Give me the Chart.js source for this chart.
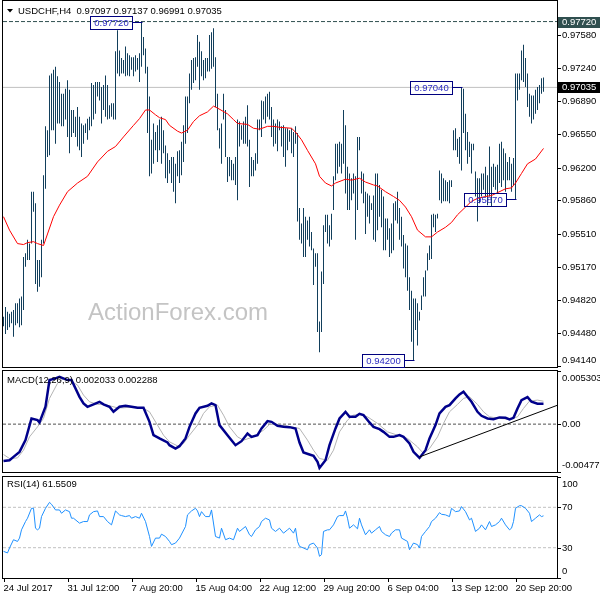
<!DOCTYPE html>
<html>
<head>
<meta charset="utf-8">
<script src="https://cdn.jsdelivr.net/npm/chart.js@4.4.0/dist/chart.umd.min.js"></script>
<style>
  body { margin: 0; background: #fff; }
  #wrap { position: relative; width: 600px; height: 600px; }
  canvas { position: absolute; left: 0; top: 0; }
</style>
</head>
<body>
<div id="wrap">
  <canvas id="priceChart" width="600" height="600"></canvas>
  <canvas id="macdChart" width="600" height="600"></canvas>
  <canvas id="rsiChart" width="600" height="600"></canvas>
</div>
<script>
// USDCHF H4 - bars, MACD, RSI
const highs = [
  0.9465,0.9475,0.9470,0.9468,0.9470,0.9472,0.9479,0.9479,0.9484,0.9486,
  0.9527,0.9531,0.9545,0.9541,0.9595,0.9595,0.9583,0.9524,0.9524,0.9545,
  0.9612,0.9663,0.9659,0.9716,0.9718,0.9722,0.9725,0.9715,0.9709,0.9697,
  0.9697,0.9702,0.9711,0.9701,0.9680,0.9680,0.9673,0.9683,0.9673,0.9666,
  0.9664,0.9666,0.9671,0.9673,0.9708,0.9706,0.9709,0.9709,0.9709,0.9704,
  0.9706,0.9716,0.9706,0.9685,0.9687,0.9687,0.9741,0.9763,0.9742,0.9734,
  0.9732,0.9746,0.9739,0.9737,0.9735,0.9735,0.9737,0.9734,0.9739,0.9772,
  0.9756,0.9744,0.9725,0.9694,0.9649,0.9666,0.9657,0.9664,0.9670,0.9673,
  0.9659,0.9643,0.9635,0.9628,0.9631,0.9631,0.9624,0.9637,0.9638,0.9647,
  0.9664,0.9694,0.9694,0.9718,0.9732,0.9734,0.9735,0.9758,0.9751,0.9741,
  0.9732,0.9734,0.9734,0.9758,0.9761,0.9765,0.9735,0.9697,0.9661,0.9666,
  0.9697,0.9680,0.9631,0.9631,0.9628,0.9624,0.9631,0.9670,0.9668,0.9664,
  0.9668,0.9673,0.9685,0.9649,0.9631,0.9628,0.9635,0.9670,0.9670,0.9690,
  0.9689,0.9694,0.9697,0.9699,0.9683,0.9670,0.9666,0.9670,0.9668,0.9663,
  0.9664,0.9661,0.9661,0.9659,0.9661,0.9657,0.9663,0.9656,0.9578,0.9562,
  0.9578,0.9569,0.9565,0.9569,0.9553,0.9536,0.9531,0.9531,0.9460,0.9512,
  0.9560,0.9571,0.9571,0.9560,0.9572,0.9611,0.9645,0.9645,0.9647,0.9645,
  0.9680,0.9664,0.9621,0.9614,0.9609,0.9614,0.9611,0.9652,0.9652,0.9616,
  0.9614,0.9595,0.9593,0.9591,0.9583,0.9591,0.9614,0.9614,0.9602,0.9597,
  0.9590,0.9567,0.9567,0.9557,0.9562,0.9583,0.9585,0.9595,0.9578,0.9569,
  0.9550,0.9541,0.9539,0.9506,0.9492,0.9484,0.9484,0.9479,0.9470,0.9487,
  0.9506,0.9513,0.9531,0.9539,0.9571,0.9572,0.9571,0.9572,0.9617,0.9614,
  0.9609,0.9607,0.9605,0.9607,0.9607,0.9659,0.9661,0.9650,0.9652,0.9704,
  0.9702,0.9676,0.9657,0.9647,0.9645,0.9645,0.9616,0.9609,0.9609,0.9614,
  0.9614,0.9621,0.9612,0.9642,0.9621,0.9624,0.9621,0.9623,0.9645,0.9647,
  0.9640,0.9635,0.9626,0.9631,0.9624,0.9630,0.9718,0.9718,0.9718,0.9742,
  0.9748,0.9734,0.9718,0.9697,0.9695,0.9695,0.9701,0.9704,0.9706,0.9713,
  0.97137
];
const lows = [
  0.9455,0.9447,0.9451,0.9454,0.9458,0.9444,0.9456,0.9458,0.9454,0.9456,
  0.9472,0.9517,0.9524,0.9524,0.9541,0.9574,0.9499,0.9491,0.9496,0.9506,
  0.9541,0.9598,0.9631,0.9633,0.9659,0.9659,0.9645,0.9666,0.9666,0.9663,
  0.9663,0.9670,0.9652,0.9635,0.9652,0.9656,0.9652,0.9642,0.9638,0.9631,
  0.9645,0.9656,0.9649,0.9659,0.9663,0.9670,0.9676,0.9694,0.9690,0.9666,
  0.9680,0.9673,0.9670,0.9671,0.9673,0.9670,0.9670,0.9718,0.9715,0.9718,
  0.9718,0.9715,0.9716,0.9715,0.9722,0.9715,0.9720,0.9722,0.9709,0.9725,
  0.9737,0.9718,0.9656,0.9611,0.9614,0.9624,0.9638,0.9626,0.9638,0.9624,
  0.9635,0.9609,0.9604,0.9614,0.9604,0.9595,0.9583,0.9611,0.9604,0.9612,
  0.9626,0.9645,0.9656,0.9687,0.9701,0.9708,0.9711,0.9725,0.9701,0.9715,
  0.9711,0.9713,0.9720,0.9720,0.9723,0.9725,0.9683,0.9659,0.9640,0.9624,
  0.9670,0.9631,0.9605,0.9611,0.9607,0.9607,0.9602,0.9586,0.9642,0.9649,
  0.9645,0.9645,0.9642,0.9600,0.9611,0.9611,0.9617,0.9624,0.9659,0.9652,
  0.9670,0.9666,0.9673,0.9670,0.9652,0.9642,0.9645,0.9637,0.9659,0.9642,
  0.9631,0.9621,0.9638,0.9647,0.9635,0.9631,0.9645,0.9564,0.9545,0.9541,
  0.9527,0.9527,0.9545,0.9538,0.9534,0.9498,0.9517,0.9449,0.9428,0.9449,
  0.9499,0.9553,0.9541,0.9538,0.9545,0.9576,0.9607,0.9614,0.9621,0.9614,
  0.9624,0.9593,0.9576,0.9576,0.9586,0.9593,0.9545,0.9576,0.9638,0.9593,
  0.9583,0.9551,0.9569,0.9562,0.9576,0.9545,0.9543,0.9555,0.9569,0.9558,
  0.9534,0.9534,0.9545,0.9527,0.9531,0.9534,0.9565,0.9562,0.9545,0.9538,
  0.9515,0.9506,0.9492,0.9472,0.9439,0.9420,0.9451,0.9435,0.9461,0.9472,
  0.9486,0.9486,0.9513,0.9524,0.9525,0.9558,0.9553,0.9567,0.9586,0.9583,
  0.9585,0.9585,0.9585,0.9583,0.9600,0.9638,0.9638,0.9631,0.9624,0.9617,
  0.9656,0.9638,0.9624,0.9631,0.9614,0.9638,0.9590,0.9564,0.9583,0.9590,
  0.9597,0.9590,0.9581,0.9590,0.9579,0.9600,0.9597,0.9593,0.9604,0.9600,
  0.9607,0.9595,0.9607,0.9607,0.9595,0.9602,0.9587,0.9690,0.9701,0.9711,
  0.9709,0.9704,0.9683,0.9673,0.9666,0.9670,0.9676,0.9680,0.9687,0.9697,
  0.96991
];

// red moving average (bar index, value)
const maIdx = [0,3,7,10,12,15,17,20,22,25,28,32,37,42,47,52,56,60,65,68,
  71,73,76,78,81,83,87,89,92,95,98,102,105,107,112,115,117,122,125,128,
  132,135,138,144,146,149,152,156,158,161,164,166,171,174,178,181,185,187,191,195,
  198,201,204,207,211,214,217,221,224,227,231,234,237,241,244,247,251,254,256,259,
  262,266,270];
const maVal = [0.9569,0.9555,0.9541,0.9540,0.9542,0.9543,0.9541,0.9539,0.9551,0.9569,
  0.9581,0.9595,0.9604,0.9611,0.9626,0.9637,0.9642,0.9652,0.9664,0.9671,
  0.9680,0.9680,0.9675,0.9672,0.9670,0.9664,0.9658,0.9656,0.9659,0.9668,
  0.9674,0.9678,0.9684,0.9682,0.9676,0.9670,0.9666,0.9665,0.9661,0.9660,
  0.9663,0.9663,0.9662,0.9661,0.9657,0.9649,0.9638,0.9624,0.9611,0.9604,
  0.9601,0.9604,0.9608,0.9607,0.9609,0.9605,0.9602,0.9601,0.9595,0.9590,
  0.9586,0.9579,0.9569,0.9555,0.9548,0.9548,0.9553,0.9558,0.9563,0.9571,
  0.9579,0.9585,0.9588,0.9590,0.9591,0.9594,0.9598,0.9599,0.9604,0.9614,
  0.9624,0.9629,0.9640];

const macdIdx = [0,3,5,8,11,14,17,18,21,23,26,28,32,34,38,40,42,45,48,50,
  53,55,58,61,64,67,70,73,75,78,82,83,86,88,91,93,96,98,102,104,
  106,108,112,114,116,119,122,124,127,129,132,134,137,140,143,146,148,150,153,155,
  157,158,161,163,166,168,171,173,176,178,180,183,185,188,190,193,195,198,200,203,
  205,208,211,213,216,218,221,223,226,228,230,232,234,237,239,242,245,248,251,253,
  255,257,259,262,264,267,270];
const macdVal = [-0.00367,-0.00360,-0.00327,-0.00277,-0.00160,0.00057,0.00040,0.00017,0.00173,0.00440,
  0.00457,0.00473,0.00440,0.00440,0.00273,0.00207,0.00173,0.00197,0.00223,0.00197,
  0.00173,0.00123,0.00173,0.00183,0.00173,0.00163,0.00163,0.00023,-0.00110,-0.00143,
  -0.00183,-0.00210,-0.00243,-0.00220,-0.00143,-0.00027,0.00107,0.00163,0.00183,0.00207,
  0.00190,-0.00010,-0.00110,-0.00160,-0.00210,-0.00170,-0.00093,-0.00127,-0.00110,-0.00043,
  0.00030,0.00023,-0.00017,-0.00027,-0.00030,-0.00043,-0.00183,-0.00283,-0.00303,-0.00317,
  -0.00377,-0.00437,-0.00360,-0.00210,-0.00043,0.00057,0.00123,0.00073,0.00073,0.00103,
  0.00090,0.00017,-0.00027,-0.00050,-0.00077,-0.00127,-0.00127,-0.00110,-0.00127,-0.00193,
  -0.00277,-0.00337,-0.00260,-0.00143,-0.00010,0.00107,0.00173,0.00190,0.00257,0.00297,
  0.00323,0.00273,0.00223,0.00123,0.00083,0.00057,0.00050,0.00067,0.00063,0.00047,
  0.00063,0.00157,0.00240,0.00270,0.00223,0.00203,0.002033];

const sigIdx = [0,3,7,10,13,17,20,23,27,30,33,37,40,43,47,50,53,57,60,65,
  70,73,77,80,83,87,90,93,97,100,103,107,110,113,117,120,125,130,133,137,
  142,148,152,155,158,162,165,168,172,175,178,182,187,192,197,202,207,210,213,217,
  220,223,227,230,233,237,240,243,248,253,257,260,263,267,270];
const sigVal = [-0.00303,-0.00343,-0.00337,-0.00260,-0.00127,-0.00027,0.00057,0.00257,0.00407,0.00457,
  0.00440,0.00390,0.00290,0.00223,0.00197,0.00197,0.00183,0.00163,0.00163,0.00173,
  0.00157,0.00123,-0.00010,-0.00110,-0.00177,-0.00217,-0.00193,-0.00110,-0.00010,0.00107,
  0.00173,0.00190,0.00090,-0.00027,-0.00127,-0.00160,-0.00127,-0.00060,-0.00003,-0.00003,
  -0.00020,-0.00043,-0.00160,-0.00260,-0.00343,-0.00360,-0.00260,-0.00077,0.00040,0.00090,
  0.00097,0.00073,0.00007,-0.00077,-0.00110,-0.00143,-0.00227,-0.00293,-0.00243,-0.00127,
  0.00007,0.00123,0.00197,0.00257,0.00273,0.00197,0.00123,0.00073,0.00057,0.00050,
  0.00073,0.00157,0.00230,0.00240,0.002288];

// MACD support trendline
const trendIdx = [208, 276.75];
const trendVal = [-0.00327, 0.00187];

const rsiIdx = [0,2,3,5,7,8,9,11,12,14,15,16,17,18,19,21,23,24,26,28,
  29,31,33,34,35,38,40,42,43,45,47,48,50,52,54,56,58,59,61,63,
  64,66,68,69,71,73,74,76,78,79,81,83,84,86,88,91,92,94,96,97,
  98,99,101,103,104,106,108,109,111,113,115,117,118,121,123,124,126,128,129,131,
  133,134,136,138,140,142,143,145,146,147,148,150,152,153,155,157,158,159,160,162,
  163,165,167,168,170,171,172,173,175,177,178,179,181,183,184,186,188,189,191,193,
  194,196,198,199,202,203,205,207,208,209,211,213,214,216,218,219,221,223,224,226,
  228,229,231,233,234,236,238,239,241,243,244,246,248,249,251,253,254,255,256,258,
  259,261,263,264,266,268,269,270];
const rsiVal = [26.4,24.8,29.7,37.9,36.2,39.5,47.7,55.9,59.2,69,
  69,49.3,47.7,49.3,60.8,69,74.9,73,67.4,67.4,
  64.1,67.4,65.7,59.2,59.2,54.3,55.9,55.9,62.5,65.7,
  66.4,60.8,60.8,55.9,52.6,66.4,62.5,61.8,60.8,61.8,
  59.2,60.8,59.2,64.1,55.9,41.1,31.3,39.5,39.5,43.4,
  41.1,36.2,33,34.6,39.5,51,62.5,66.4,69,66.4,
  60.8,65.7,60.8,60.8,67.4,41.1,39.5,49.3,37.9,39.5,
  37.9,49.3,46.1,51,42.8,41.1,47.7,51,55.9,59.2,
  57.5,49.3,46.1,49.3,44.4,47.7,49.3,44.4,49.3,36.2,
  31.3,29.7,28,33,34.6,29.7,21.5,23.1,46.1,47.7,
  47.7,52.6,60.8,61.8,61.8,66.4,59.2,49.3,52.6,48.7,
  59.2,52.6,42.8,47.7,44.4,47.7,51,46.1,42.8,41.1,
  44.4,47.7,47.7,39.5,36.2,28,34.6,33,29.7,41.1,
  46.1,51,55.9,59.2,64.7,63.1,62.5,60.8,69,65.7,
  66.4,70.7,65.7,57.5,59.2,46.1,49.3,52.6,47.7,55.9,
  51,52.6,55.9,59.2,52.6,47.7,49.3,55.9,69,71.6,
  71.6,69,64.1,55.9,59.2,62.5,60.8,61.55];

const priceTicks = [0.97580,0.97240,0.96890,0.96550,0.96200,0.95860,0.95510,0.95170,0.94820,0.94480,0.94140];
const highLevel = 0.97720;
const lastPrice = 0.97035;
const macdTicks = [0.005303, 0, -0.004777];
const macdTickText = ['0.005303', '0.00', '-0.004777'];
const rsiTicks = [100, 70, 30, 0];
const rsiLevels = [70, 30];
const timeIdx = [0,32,64,96,128,160,192,224,256];
const timeLabels = ['24 Jul 2017','31 Jul 12:00','7 Aug 20:00','15 Aug 04:00','22 Aug 12:00',
  '29 Aug 20:00','6 Sep 04:00','13 Sep 12:00','20 Sep 20:00'];
// price boxes: bar index, price
const markIdx = [69, 229, 256, 205];
const markVal = [0.97720, 0.97040, 0.95870, 0.94200];

const FONT = '9.5px "Liberation Sans", Arial, sans-serif';
const X_MIN = -0.25, X_MAX = 276.75;

const deco = {
  id: 'deco',
  beforeDatasetsDraw(chart, args, o) {
    if (!o.watermark) return;
    const ctx = chart.ctx;
    ctx.save();
    ctx.font = '24px "Liberation Sans", Arial, sans-serif';
    ctx.fillStyle = '#c4c4c4';
    ctx.textBaseline = 'middle';
    ctx.fillText(o.watermark, 88, 313);
    ctx.restore();
  },
  afterDraw(chart, args, o) {
    const { ctx, chartArea: a, scales: { x, y } } = chart;
    ctx.save();
    ctx.strokeStyle = '#000';
    ctx.lineWidth = 1;
    ctx.strokeRect(a.left - 0.5, a.top - 0.5, a.right - a.left + 1, a.bottom - a.top + 1);
    ctx.font = FONT;
    ctx.textBaseline = 'middle';
    ctx.textAlign = 'left';
    (o.ticks || []).forEach(t => {
      const py = Math.round(y.getPixelForValue(t.v)) + 0.5;
      const ly = Math.min(Math.max(py, a.top + 7), a.bottom - 6.5);
      ctx.strokeStyle = '#000';
      ctx.beginPath(); ctx.moveTo(a.right + 0.5, py); ctx.lineTo(a.right + 4, py); ctx.stroke();
      if (t.bg) {
        ctx.fillStyle = t.bg;
        ctx.fillRect(a.right + 1, ly - 5.5, 43, 11);
        ctx.fillStyle = '#fff';
      } else {
        ctx.fillStyle = '#000';
      }
      ctx.fillText(t.text, a.right + 5, ly);
    });
    (o.marks || []).forEach(m => {
      const px = Math.round(x.getPixelForValue(m.i)) + 0.5;
      const py = Math.round(y.getPixelForValue(m.v)) + 0.5;
      const r = px - 10, l = r - 42;
      ctx.strokeStyle = '#00007f';
      ctx.strokeRect(l, py - 6, 42, 13);
      ctx.beginPath(); ctx.moveTo(r, py); ctx.lineTo(px, py); ctx.stroke();
      ctx.fillStyle = '#2a2ac0';
      ctx.textAlign = 'center';
      ctx.fillText(m.text, (l + r) / 2, py + 0.5);
      ctx.textAlign = 'left';
    });
    (o.xlabels || []).forEach(t => {
      const px = Math.round(x.getPixelForValue(t.i)) + 0.5;
      ctx.strokeStyle = '#000';
      ctx.beginPath(); ctx.moveTo(px, a.bottom + 1); ctx.lineTo(px, a.bottom + 4); ctx.stroke();
      ctx.fillStyle = '#000';
      ctx.fillText(t.text, px - 1, 588.5);
    });
    (o.texts || []).forEach(t => {
      ctx.fillStyle = '#000';
      ctx.fillText(t.text, t.x, t.y);
    });
    if (o.arrow) {
      ctx.fillStyle = '#000';
      ctx.beginPath(); ctx.moveTo(7, 9); ctx.lineTo(13, 9); ctx.lineTo(10, 12.5); ctx.closePath(); ctx.fill();
    }
    ctx.restore();
  }
};

function levelLine(v, color, dash) {
  return {
    type: 'line',
    data: [{ x: X_MIN, y: v }, { x: X_MAX, y: v }],
    borderColor: color, borderWidth: 1, borderDash: dash,
    pointRadius: 0, order: 5
  };
}
function series(idx, vals, color, width, order) {
  return {
    type: 'line',
    data: idx.map((i, k) => ({ x: i, y: vals[k] })),
    borderColor: color, borderWidth: width, pointRadius: 0,
    tension: 0, fill: false, order: order
  };
}
function baseOptions(pad, yMin, yMax, decoOpts) {
  return {
    responsive: false,
    animation: false,
    events: [],
    layout: { padding: pad },
    plugins: { legend: { display: false }, tooltip: { enabled: false }, deco: decoOpts },
    scales: {
      x: { type: 'linear', min: X_MIN, max: X_MAX, offset: false, display: false },
      y: { min: yMin, max: yMax, display: false }
    }
  };
}

// price panel
const priceTickList = priceTicks.map(v => ({ v: v, text: v.toFixed(5) }));
priceTickList.push({ v: highLevel, text: highLevel.toFixed(5), bg: '#2f4f4f' });
priceTickList.push({ v: lastPrice, text: lastPrice.toFixed(5), bg: '#000' });

new Chart(document.getElementById('priceChart'), {
  type: 'bar',
  data: {
    datasets: [
      {
        type: 'bar',
        data: highs.map((h, i) => ({ x: i, y: [lows[i], h] })),
        backgroundColor: '#123f5c',
        borderWidth: 0,
        barThickness: 1,
        inflateAmount: 0,
        order: 3
      },
      series(maIdx, maVal, '#ff0000', 1, 1),
      levelLine(highLevel, '#2f4f4f', [4, 2]),
      levelLine(lastPrice, '#c0c0c0', [])
    ]
  },
  options: baseOptions({ left: 3, right: 43, top: 1, bottom: 233 }, 0.94126, 0.97934, {
    ticks: priceTickList,
    marks: markIdx.map((i, k) => ({ i: i, v: markVal[k], text: markVal[k].toFixed(5) })),
    texts: [{ text: 'USDCHF,H4  0.97097 0.97137 0.96991 0.97035', x: 18, y: 11 }],
    arrow: true,
    watermark: 'ActionForex.com'
  }),
  plugins: [deco]
});

// MACD panel
new Chart(document.getElementById('macdChart'), {
  type: 'line',
  data: {
    datasets: [
      levelLine(0, '#505050', [3, 2]),
      series(sigIdx, sigVal, '#b4b4b4', 1, 3),
      series(macdIdx, macdVal, '#00008b', 2.5, 2),
      series(trendIdx, trendVal, '#000000', 1, 1)
    ]
  },
  options: baseOptions({ left: 3, right: 43, top: 371, bottom: 128 }, -0.004777, 0.005303, {
    ticks: macdTicks.map((v, k) => ({ v: v, text: macdTickText[k] })),
    texts: [{ text: 'MACD(12,26,9) 0.002033 0.002288', x: 7, y: 380 }]
  }),
  plugins: [deco]
});

// RSI panel
new Chart(document.getElementById('rsiChart'), {
  type: 'line',
  data: {
    datasets: [
      levelLine(rsiLevels[0], '#c0c0c0', [3, 2]),
      levelLine(rsiLevels[1], '#c0c0c0', [3, 2]),
      series(rsiIdx, rsiVal, '#1e90ff', 1, 1)
    ]
  },
  options: baseOptions({ left: 3, right: 43, top: 477, bottom: 22 }, 0, 100, {
    ticks: rsiTicks.map(v => ({ v: v, text: String(v) })),
    xlabels: timeIdx.map((i, k) => ({ i: i, text: timeLabels[k] })),
    texts: [{ text: 'RSI(14) 61.5509', x: 7, y: 484.5 }]
  }),
  plugins: [deco]
});
</script>
</body>
</html>
